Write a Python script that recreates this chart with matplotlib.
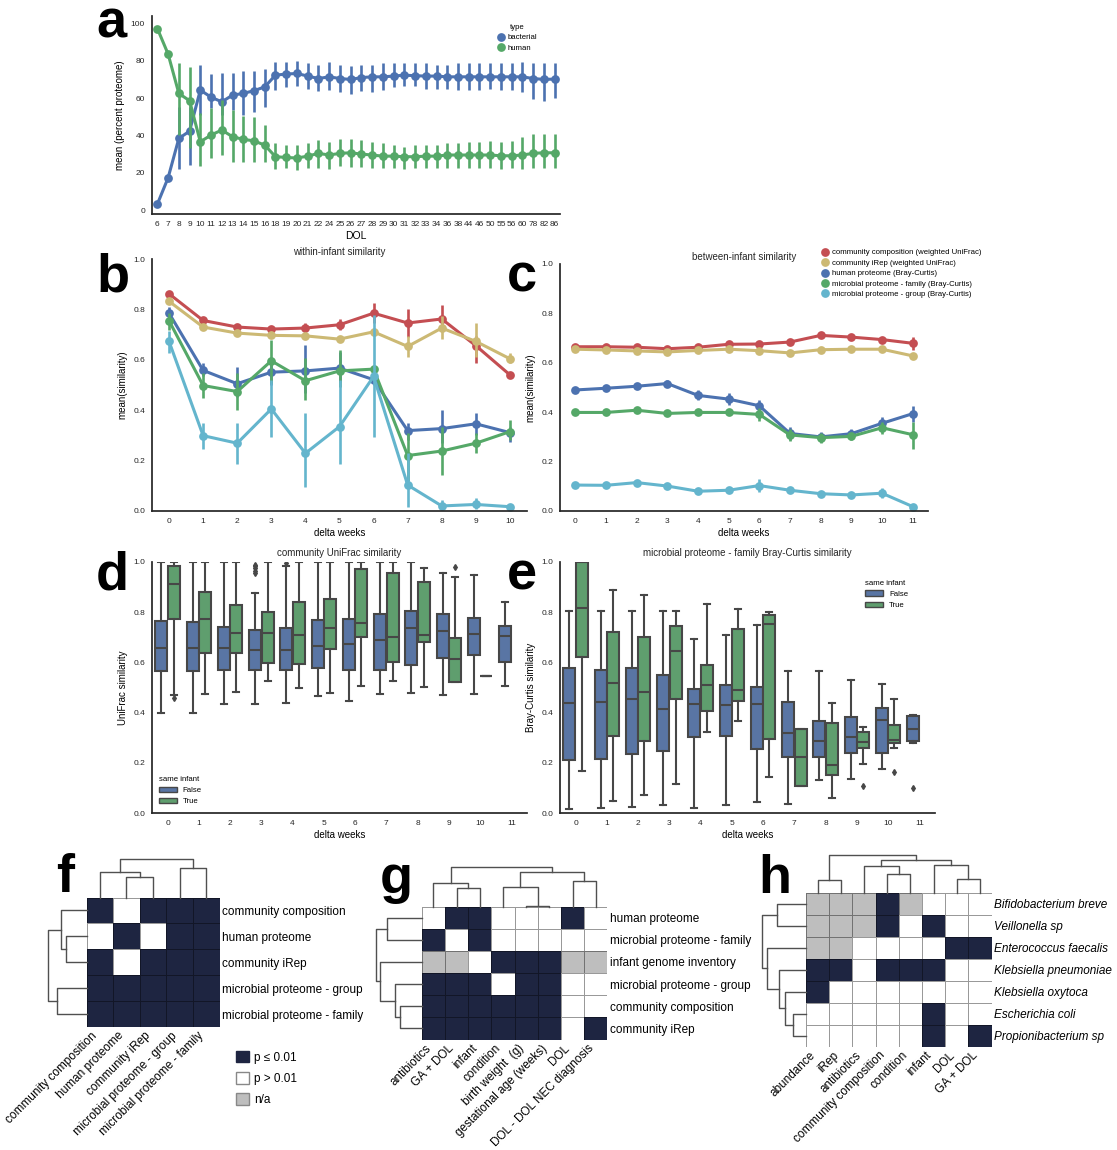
import numpy as np
import matplotlib
matplotlib.use('Agg')
import matplotlib.pyplot as plt
from matplotlib.colors import ListedColormap
from matplotlib.lines import Line2D
from matplotlib.patches import Patch

plt.rcParams['font.family'] = ['Liberation Sans', 'DejaVu Sans']

# ---- panel a: percent proteome by DOL ----
dol = ['6', '7', '8', '9', '10', '11', '12', '13', '14', '15', '16', '18', '19', '20', '21', '22',
       '24', '25', '26', '27', '28', '29', '30', '31', '32', '33', '34', '36', '38', '44', '46',
       '50', '55', '56', '60', '78', '82', '86']
bacterial_mean = [3.2, 17.3, 38.4, 42.3, 64.3, 60.5, 58.0, 61.6, 62.5, 64.0, 66.0, 72.3, 72.9, 73.2,
                  71.8, 70.5, 71.4, 70.5, 70.0, 71.0, 71.4, 71.4, 71.8, 72.3, 72.0, 71.8, 71.8, 71.4,
                  71.4, 71.4, 71.4, 71.4, 71.4, 71.4, 71.4, 70.5, 70.0, 70.2]
bacterial_lo = [2.5, 16.5, 22, 24, 51, 54.5, 51, 53.6, 51, 52.7, 55, 64.6, 66, 66.4, 64.8, 64, 64.3,
                63.2, 62, 64, 63.4, 64.6, 65.7, 66.4, 66.4, 65, 65, 65, 64.6, 64.6, 64.6, 65, 64.6,
                64.6, 63.4, 59.3, 58.6, 60.2]
bacterial_hi = [4, 18.2, 55, 55, 78, 73, 73.5, 73.5, 74.5, 74.5, 75.4, 79.5, 79.3, 79.8, 79, 78, 79.3,
                77.5, 77, 78, 78, 78.6, 78.6, 78.6, 78.6, 78.6, 78, 78, 78.6, 78.6, 78.6, 78.6, 78.6,
                79, 79.5, 79, 79, 79]
human_mean = [97.3, 83.6, 62.5, 58.6, 36.6, 40.2, 42.9, 39.3, 37.9, 37.1, 34.8, 28.6, 28.2, 27.9,
              28.9, 30.4, 29.5, 30.4, 30.7, 30.0, 29.5, 28.9, 28.9, 28.6, 28.6, 28.9, 28.9, 29.5,
              29.5, 29.5, 29.5, 29.5, 29.1, 29.1, 29.5, 30.4, 30.7, 30.7]
human_lo = [96.5, 82.8, 40, 33, 23.6, 27.7, 29.5, 26, 26, 26, 26, 21.8, 22.3, 21.4, 22.3, 22.3, 21.8,
            23.8, 23.3, 23.3, 22.3, 22.3, 22.3, 21.8, 22.3, 22.3, 22.3, 22.3, 22.3, 22.3, 22.3, 22.3,
            21.8, 22.3, 21.8, 22.3, 22.3, 22.3]
human_hi = [98, 84.4, 79, 76.8, 51.8, 54.5, 59, 53.6, 50.4, 50, 45.5, 35.7, 34.8, 34.8, 35.7, 37.5,
            36.6, 37.9, 37.9, 37.5, 36.6, 35.7, 34.8, 33.9, 34.8, 34.8, 34.8, 35.7, 35.7, 36.6, 36.6,
            37.1, 36.6, 37.1, 39, 41, 41, 41]

# ---- panels b, c: similarity by delta weeks ----
sim_names = ['community composition (weighted UniFrac)', 'community iRep (weighted UniFrac)',
             'human proteome (Bray-Curtis)', 'microbial proteome - family (Bray-Curtis)',
             'microbial proteome - group (Bray-Curtis)']
sim_colors = ['#C44E52', '#CCB974', '#4C72B0', '#55A868', '#64B5CD']

within_mean = [
    [0.862, 0.756, 0.730, 0.722, 0.726, 0.739, 0.785, 0.746, 0.762, 0.656, 0.540],
    [0.832, 0.730, 0.706, 0.697, 0.695, 0.682, 0.711, 0.653, 0.726, 0.673, 0.604],
    [0.785, 0.558, 0.505, 0.551, 0.556, 0.567, 0.521, 0.319, 0.327, 0.346, 0.311],
    [0.755, 0.498, 0.474, 0.596, 0.517, 0.556, 0.563, 0.220, 0.238, 0.269, 0.315],
    [0.673, 0.299, 0.269, 0.405, 0.229, 0.335, 0.534, 0.103, 0.020, 0.026, 0.017]]
within_lo = [
    [0.850, 0.745, 0.720, 0.712, 0.710, 0.720, 0.748, 0.690, 0.713, 0.587, 0.535],
    [0.820, 0.720, 0.697, 0.688, 0.685, 0.672, 0.700, 0.613, 0.682, 0.613, 0.587],
    [0.760, 0.534, 0.454, 0.500, 0.470, 0.510, 0.500, 0.280, 0.270, 0.302, 0.275],
    [0.720, 0.448, 0.400, 0.507, 0.441, 0.494, 0.545, 0.120, 0.143, 0.230, 0.280],
    [0.626, 0.245, 0.187, 0.295, 0.097, 0.187, 0.295, 0.017, 0.007, 0.007, 0.008]]
within_hi = [
    [0.875, 0.770, 0.740, 0.732, 0.745, 0.760, 0.825, 0.800, 0.816, 0.693, 0.548],
    [0.845, 0.740, 0.716, 0.707, 0.705, 0.692, 0.722, 0.693, 0.772, 0.746, 0.626],
    [0.810, 0.587, 0.573, 0.605, 0.660, 0.630, 0.545, 0.350, 0.400, 0.388, 0.335],
    [0.785, 0.547, 0.547, 0.677, 0.607, 0.640, 0.580, 0.310, 0.335, 0.310, 0.360],
    [0.713, 0.350, 0.350, 0.520, 0.388, 0.520, 0.778, 0.229, 0.044, 0.050, 0.025]]

between_mean = [
    [0.665, 0.665, 0.663, 0.657, 0.663, 0.675, 0.676, 0.684, 0.711, 0.704, 0.694, 0.679],
    [0.655, 0.652, 0.648, 0.644, 0.650, 0.655, 0.649, 0.640, 0.653, 0.655, 0.655, 0.628],
    [0.490, 0.497, 0.505, 0.516, 0.468, 0.453, 0.426, 0.314, 0.300, 0.313, 0.355, 0.394],
    [0.399, 0.399, 0.408, 0.395, 0.399, 0.399, 0.391, 0.308, 0.297, 0.302, 0.337, 0.309],
    [0.105, 0.104, 0.115, 0.101, 0.080, 0.084, 0.103, 0.084, 0.070, 0.065, 0.072, 0.018]]
between_lo = [
    [0.657, 0.657, 0.655, 0.649, 0.655, 0.667, 0.667, 0.675, 0.702, 0.695, 0.685, 0.652],
    [0.647, 0.644, 0.640, 0.636, 0.642, 0.647, 0.641, 0.632, 0.645, 0.647, 0.647, 0.618],
    [0.480, 0.487, 0.495, 0.501, 0.448, 0.428, 0.401, 0.289, 0.280, 0.293, 0.330, 0.362],
    [0.387, 0.387, 0.396, 0.383, 0.387, 0.387, 0.366, 0.283, 0.277, 0.287, 0.312, 0.250],
    [0.095, 0.094, 0.105, 0.091, 0.070, 0.074, 0.078, 0.074, 0.060, 0.055, 0.052, 0.010]]
between_hi = [
    [0.673, 0.673, 0.671, 0.665, 0.671, 0.683, 0.685, 0.693, 0.720, 0.713, 0.703, 0.706],
    [0.663, 0.660, 0.656, 0.652, 0.658, 0.663, 0.657, 0.648, 0.661, 0.663, 0.663, 0.638],
    [0.500, 0.507, 0.515, 0.531, 0.488, 0.478, 0.451, 0.339, 0.320, 0.333, 0.380, 0.426],
    [0.411, 0.411, 0.420, 0.407, 0.411, 0.411, 0.416, 0.333, 0.317, 0.317, 0.362, 0.362],
    [0.115, 0.114, 0.125, 0.111, 0.090, 0.094, 0.128, 0.094, 0.080, 0.075, 0.092, 0.026]]

# ---- panels d, e: box summaries (whislo, q1, med, q3, whishi) ----
unifrac_false = [(0.400, 0.564, 0.659, 0.765, 1.000), (0.400, 0.566, 0.659, 0.759, 1.000),
                 (0.434, 0.570, 0.656, 0.743, 1.000), (0.435, 0.570, 0.650, 0.729, 0.875),
                 (0.440, 0.570, 0.650, 0.739, 0.984), (0.467, 0.577, 0.667, 0.769, 1.000),
                 (0.446, 0.568, 0.674, 0.773, 1.000), (0.475, 0.568, 0.690, 0.794, 1.000),
                 (0.480, 0.588, 0.739, 0.805, 1.000), (0.471, 0.617, 0.727, 0.794, 0.955),
                 (0.475, 0.630, 0.715, 0.777, 0.948), (0.504, 0.601, 0.706, 0.747, 0.842)]
unifrac_false_fliers = [[], [], [], [0.955, 0.965, 0.975, 0.985, 0.99], [0.997], [], [], [], [], [], [], []]
unifrac_true = [(0.471, 0.773, 0.914, 0.984, 1.000), (0.473, 0.638, 0.772, 0.882, 1.000),
                (0.484, 0.638, 0.716, 0.828, 1.000), (0.524, 0.599, 0.719, 0.802, 1.000),
                (0.497, 0.593, 0.710, 0.842, 1.000), (0.477, 0.653, 0.739, 0.854, 1.000),
                (0.504, 0.700, 0.756, 0.972, 1.000), (0.527, 0.603, 0.703, 0.956, 1.000),
                (0.501, 0.683, 0.710, 0.922, 0.977), (0.520, 0.523, 0.613, 0.696, 0.942),
                (0.544, 0.544, 0.544, 0.544, 0.544)]
unifrac_true_fliers = [[0.458], [], [], [], [], [], [], [], [], [0.981], []]

bray_false = [(0.016, 0.212, 0.438, 0.577, 0.805), (0.019, 0.216, 0.442, 0.570, 0.805),
              (0.024, 0.236, 0.456, 0.577, 0.805), (0.031, 0.248, 0.414, 0.550, 0.805),
              (0.020, 0.301, 0.435, 0.495, 0.692), (0.031, 0.305, 0.432, 0.508, 0.710),
              (0.044, 0.256, 0.435, 0.501, 0.749), (0.036, 0.225, 0.317, 0.444, 0.564),
              (0.133, 0.225, 0.288, 0.365, 0.564), (0.137, 0.239, 0.302, 0.381, 0.528),
              (0.175, 0.239, 0.369, 0.420, 0.515), (0.279, 0.285, 0.334, 0.385, 0.391)]
bray_false_fliers = [[], [], [], [], [], [], [], [], [], [], [], [0.099]]
bray_true = [(0.168, 0.623, 0.816, 1.000, 1.000), (0.046, 0.308, 0.517, 0.723, 0.889),
             (0.070, 0.288, 0.484, 0.703, 0.869), (0.115, 0.455, 0.646, 0.745, 0.805),
             (0.321, 0.405, 0.508, 0.588, 0.832), (0.367, 0.446, 0.491, 0.732, 0.813),
             (0.142, 0.294, 0.753, 0.789, 0.802), (0.106, 0.106, 0.223, 0.334, 0.334),
             (0.060, 0.153, 0.190, 0.358, 0.438), (0.196, 0.259, 0.282, 0.322, 0.341),
             (0.259, 0.279, 0.289, 0.351, 0.455)]
bray_true_fliers = [[], [], [], [], [], [], [], [], [], [0.106], [0.163]]

# ---- panels f, g, h: significance (1 = p<=0.01, 0 = p>0.01, 2 = n/a) ----
f_labels = ['community composition', 'human proteome', 'community iRep',
            'microbial proteome - group', 'microbial proteome - family']
f_matrix = [[1, 0, 1, 1, 1],
            [0, 1, 0, 1, 1],
            [1, 0, 1, 1, 1],
            [1, 1, 1, 1, 1],
            [1, 1, 1, 1, 1]]
f_tree = [(1, 2, 21), (0, 5, 26), (3, 4, 30), (6, 7, 38.7)]

g_rows = ['human proteome', 'microbial proteome - family', 'infant genome inventory',
          'microbial proteome - group', 'community composition', 'community iRep']
g_cols = ['antibiotics', 'GA + DOL', 'infant', 'condition', 'birth weight  (g)',
          'gestational age (weeks)', 'DOL', 'DOL - DOL NEC diagnosis']
g_matrix = [[0, 1, 1, 0, 0, 0, 1, 0],
            [1, 0, 1, 0, 0, 0, 0, 0],
            [2, 2, 0, 1, 1, 1, 2, 2],
            [1, 1, 1, 0, 1, 1, 0, 0],
            [1, 1, 1, 1, 1, 1, 0, 0],
            [1, 1, 1, 1, 1, 1, 0, 1]]
g_col_tree = [(4, 5, 0.5), (1, 2, 18.3), (3, 8, 19.3), (0, 9, 23.3), (6, 7, 26), (10, 12, 35), (11, 13, 39.7)]
g_row_tree = [(4, 5, 21.7), (3, 6, 26.7), (0, 1, 35), (2, 7, 41.7), (8, 9, 46)]

h_rows = ['Bifidobacterium breve', 'Veillonella sp', 'Enterococcus faecalis', 'Klebsiella pneumoniae',
          'Klebsiella oxytoca', 'Escherichia coli', 'Propionibacterium sp']
h_cols = ['abundance', 'iRep', 'antibiotics', 'community composition', 'condition', 'infant', 'DOL', 'GA + DOL']
h_matrix = [[2, 2, 2, 1, 2, 0, 0, 0],
            [2, 2, 2, 1, 0, 1, 0, 0],
            [2, 2, 0, 0, 0, 0, 1, 1],
            [1, 1, 0, 1, 1, 1, 0, 0],
            [1, 0, 0, 0, 0, 0, 0, 0],
            [0, 0, 0, 0, 0, 1, 0, 0],
            [0, 0, 0, 0, 0, 1, 0, 1]]
h_col_tree = [(0, 1, 13.3), (6, 7, 13.7), (3, 4, 18.7), (2, 10, 26.7), (5, 9, 27.7), (11, 12, 32.7), (8, 13, 38.3)]
h_row_tree = [(5, 6, 13.3), (4, 7, 21), (3, 8, 26.7), (0, 1, 29.3), (2, 9, 39.3), (10, 11, 44.3)]

sig_labels = ['p \u2264 0.01', 'p > 0.01', 'n/a']

DARK = '#1e2541'
NA = '#bebebe'
BOXGRAY = '#474747'
W, H = 1117, 1150
fig = plt.figure(figsize=(W / 100, H / 100), dpi=100)


def px_axes(x0, y0, x1, y1):
    return fig.add_axes([x0 / W, 1 - y1 / H, (x1 - x0) / W, (y1 - y0) / H])


def style(ax):
    for s in ['top', 'right']:
        ax.spines[s].set_visible(False)
    for s in ['left', 'bottom']:
        ax.spines[s].set_color('.15')
        ax.spines[s].set_linewidth(1.25)
    ax.tick_params(length=0, labelsize=6, colors='.15', pad=5)


def points(ax, x, y, lo, hi, color):
    ax.plot(x, y, color=color, lw=2.2)
    ax.vlines(x, lo, hi, color=color, lw=1.9)
    ax.plot(x, y, ls='none', marker='o', ms=6.3, mew=0, color=color)


# panel a
ax = px_axes(152, 16, 560, 214)
style(ax)
xa = np.arange(len(dol))
points(ax, xa, bacterial_mean, bacterial_lo, bacterial_hi, '#4C72B0')
points(ax, xa, human_mean, human_lo, human_hi, '#55A868')
ax.set_xlim(-0.5, len(dol) - 0.5)
ax.set_ylim(-2.1, 104)
ax.set_xticks(xa)
ax.set_xticklabels(dol)
ax.set_yticks([0, 20, 40, 60, 80, 100])
ax.set_xlabel('DOL', fontsize=7.5, labelpad=2)
ax.set_ylabel('mean (percent proteome)', fontsize=7)
hands = [Line2D([], [], ls='none', marker='o', ms=6.3, mew=0, color=c) for c in ['#4C72B0', '#55A868']]
ax.legend(hands, ['bacterial', 'human'], title='type', fontsize=5.6, title_fontsize=5.6,
          frameon=False, loc='upper left', bbox_to_anchor=(0.845, 0.96), borderpad=0,
          borderaxespad=0, handlelength=1, handletextpad=0.4, labelspacing=0.4)


def sim_panel(box, means, los, his, title):
    ax = px_axes(*box)
    style(ax)
    n = len(means[0])
    x = np.arange(n)
    for m, lo, hi, c in zip(means, los, his, sim_colors):
        points(ax, x, m, lo, hi, c)
    ax.set_xlim(-0.5, n - 0.5)
    ax.set_ylim(0, 1)
    ax.set_xticks(x)
    ax.set_yticks([0, 0.2, 0.4, 0.6, 0.8, 1.0])
    ax.set_xlabel('delta weeks', fontsize=7, labelpad=2)
    ax.set_ylabel('mean(similarity)', fontsize=7)
    ax.set_title(title, fontsize=7, color='.15', pad=3)
    return ax


sim_panel((152, 259, 527, 511), within_mean, within_lo, within_hi, 'within-infant similarity')
axc = sim_panel((560, 264, 928, 511), between_mean, between_lo, between_hi, 'between-infant similarity')
hands = [Line2D([], [], ls='none', marker='o', ms=6.3, mew=0, color=c) for c in sim_colors]
axc.legend(hands, sim_names, fontsize=5.6, frameon=False, loc='upper left',
           bbox_to_anchor=(821 / W, 1 - 249 / H), bbox_transform=fig.transFigure,
           borderpad=0, borderaxespad=0, handlelength=1, handletextpad=0.4, labelspacing=0.38)


def box_panel(box, fstats, ffl, tstats, tfl, title, ylabel, leg_loc, leg_anchor):
    ax = px_axes(*box)
    style(ax)
    for stats, fl, off, col in [(fstats, ffl, -0.2, '#5975a4'), (tstats, tfl, 0.2, '#5f9e6e')]:
        st = [dict(whislo=s[0], q1=s[1], med=s[2], q3=s[3], whishi=s[4], fliers=f)
              for s, f in zip(stats, fl)]
        pos = np.arange(len(st)) + off
        ax.bxp(st, positions=pos, widths=0.39, patch_artist=True, manage_ticks=False,
               boxprops=dict(facecolor=col, edgecolor=BOXGRAY, lw=1.5),
               whiskerprops=dict(color=BOXGRAY, lw=1.5), capprops=dict(color=BOXGRAY, lw=1.5),
               medianprops=dict(color=BOXGRAY, lw=1.5),
               flierprops=dict(marker='d', markerfacecolor=BOXGRAY, markeredgecolor=BOXGRAY, markersize=3))
    ax.set_xlim(-0.5, 11.5)
    ax.set_ylim(0, 1)
    ax.set_xticks(np.arange(12))
    ax.set_xticklabels([str(i) for i in range(12)])
    ax.set_yticks([0, 0.2, 0.4, 0.6, 0.8, 1.0])
    ax.set_xlabel('delta weeks', fontsize=7, labelpad=2)
    ax.set_ylabel(ylabel, fontsize=7)
    ax.set_title(title, fontsize=7, color='.15', pad=4)
    hands = [Patch(facecolor='#5975a4', edgecolor=BOXGRAY, lw=1), Patch(facecolor='#5f9e6e', edgecolor=BOXGRAY, lw=1)]
    ax.legend(hands, ['False', 'True'], title='same infant', fontsize=5.6, title_fontsize=5.6,
              frameon=False, loc=leg_loc, bbox_to_anchor=leg_anchor, borderpad=0, borderaxespad=0,
              handlelength=2.3, handletextpad=0.8, labelspacing=0.5, alignment='left')


box_panel((152, 562, 527, 813), unifrac_false, unifrac_false_fliers, unifrac_true, unifrac_true_fliers,
          'community UniFrac similarity', 'UniFrac similarity', 'lower left', (0.018, 0.03))
box_panel((560, 562, 935, 813), bray_false, bray_false_fliers, bray_true, bray_true_fliers,
          'microbial proteome - family Bray-Curtis similarity', 'Bray-Curtis similarity',
          'upper left', (0.813, 0.93))


def dendro(ax, tree, n, side):
    pos = {i: float(i) for i in range(n)}
    hgt = {i: 0.0 for i in range(n)}
    for k, (a, b, d) in enumerate(tree):
        xs = [pos[a], pos[a], pos[b], pos[b]]
        ys = [hgt[a], d, d, hgt[b]]
        if side == 'top':
            ax.plot(xs, ys, color='#505050', lw=1.0, clip_on=False)
        else:
            ax.plot(ys, xs, color='#505050', lw=1.0, clip_on=False)
        pos[n + k] = (pos[a] + pos[b]) / 2
        hgt[n + k] = d
    ax.axis('off')


def heat(box, matrix, rows, cols, col_tree, row_tree, ctop, rleft, italic=False):
    x0, y0, x1, y1 = box
    ax = px_axes(*box)
    m = np.array(matrix)
    cmap = ListedColormap(['white', DARK, NA])
    ax.pcolormesh(m, cmap=cmap, vmin=-0.5, vmax=2.5, edgecolors=(0, 0, 0, 0.4), linewidth=0.6)
    ax.set_xlim(0, m.shape[1])
    ax.set_ylim(m.shape[0], 0)
    for s in ax.spines.values():
        s.set_visible(False)
    ax.set_xticks(np.arange(m.shape[1]) + 0.5)
    ax.set_xticklabels(cols, rotation=45, ha='right', va='top', fontsize=8.5)
    ax.yaxis.tick_right()
    ax.set_yticks(np.arange(m.shape[0]) + 0.5)
    ax.set_yticklabels(rows, fontsize=8.5, style='italic' if italic else 'normal')
    ax.tick_params(length=0, pad=2, colors='black')
    top = px_axes(x0, y0 - ctop, x1, y0)
    top.set_xlim(-0.5, m.shape[1] - 0.5)
    top.set_ylim(0, ctop)
    dendro(top, col_tree, m.shape[1], 'top')
    left = px_axes(x0 - rleft, y0, x0, y1)
    left.set_xlim(rleft, 0)
    left.set_ylim(m.shape[0] - 0.5, -0.5)
    dendro(left, row_tree, m.shape[0], 'left')
    return ax


heat((86.5, 897.5, 219.5, 1027), f_matrix, f_labels, f_labels, f_tree, f_tree, 40, 40)
heat((421.7, 906.5, 607.3, 1039.5), g_matrix, g_rows, g_cols, g_col_tree, g_row_tree, 41, 48)
heat((806, 893, 991.7, 1046.7), h_matrix, h_rows, h_cols, h_col_tree, h_row_tree, 40, 46, italic=True)

hands = [Patch(facecolor=DARK, edgecolor=DARK), Patch(facecolor='white', edgecolor='#888888'),
         Patch(facecolor=NA, edgecolor='#888888')]
fig.legend(hands, sig_labels, fontsize=8.5, frameon=False, loc='upper left',
           bbox_to_anchor=(236 / W, 1 - 1051 / H), borderpad=0, borderaxespad=0,
           handlelength=1.1, handleheight=1.1, handletextpad=0.4, labelspacing=0.72)

for letter, lx, ly in [('a', 96, 38), ('b', 96, 292), ('c', 507, 292), ('d', 96, 590),
                       ('e', 507, 590), ('f', 56, 892), ('g', 380, 893), ('h', 758, 893)]:
    fig.text(lx / W, 1 - ly / H, letter, fontsize=39, fontweight='bold', va='baseline', ha='left')

fig.savefig('out.png', dpi=100)
